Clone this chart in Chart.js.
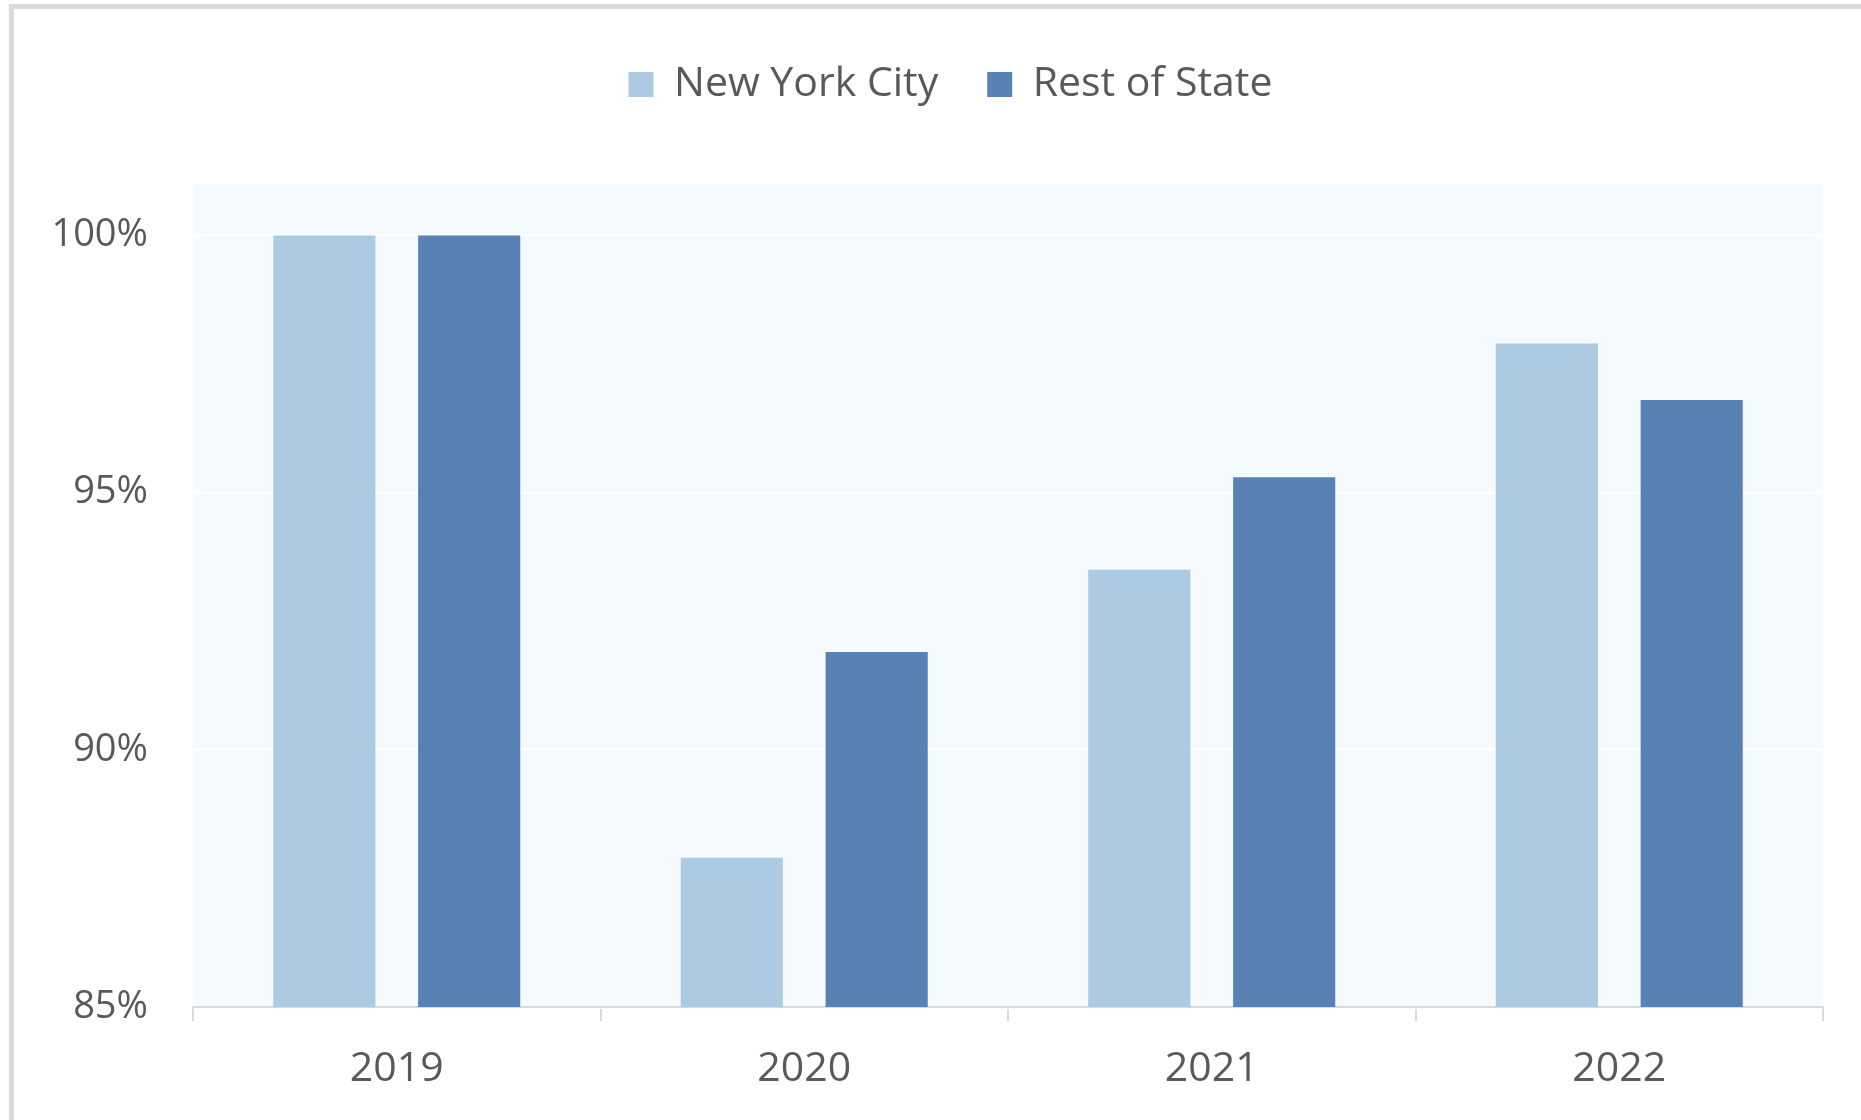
<!DOCTYPE html>
<html>
<head>
<meta charset="utf-8">
<script src="https://cdn.jsdelivr.net/npm/chart.js@4.4.1/dist/chart.umd.min.js"></script>
<style>
    html, body { margin: 0; padding: 0; background: #ffffff; overflow: hidden; }
    #frame {
        position: absolute; left: 9px; top: 4px; width: 1900px; height: 1200px;
        border-top: 5px solid #dadada; border-left: 5px solid #dadada;
    }
    #wrap { position: absolute; left: 0; top: 0; width: 1861px; height: 1120px; }
</style>
</head>
<body>
<div id="frame"></div>
<div id="wrap"><canvas id="chart"></canvas></div>
<script>
// datos del gráfico
const years = ['2019', '2020', '2021', '2022'];
const nycValues = [100, 87.9, 93.5, 97.9];
const restValues = [100, 91.9, 95.3, 96.8];
const yTicks = [85, 90, 95, 100];

const textColor = '#595959';

// fondo azul claro del área de trazado
const plotBackground = {
    id: 'plotBackground',
    beforeDraw(chart) {
        const { ctx, chartArea } = chart;
        ctx.save();
        ctx.fillStyle = '#f4fafe';
        ctx.fillRect(chartArea.left, chartArea.top, chartArea.right - chartArea.left, chartArea.bottom - chartArea.top);
        ctx.restore();
    }
};

// la leyenda ocupa el espacio hasta el área de trazado y se desplaza un poco
const legendSpacer = {
    id: 'legendSpacer',
    beforeInit(chart) {
        const legend = chart.legend;
        if (!legend) return;
        const fit = legend.fit;
        legend.fit = function () {
            fit.bind(legend)();
            this.height = 184;
        };
        const draw = legend.draw;
        legend.draw = function () {
            const ctx = chart.ctx;
            ctx.save();
            ctx.translate(39, 15);
            draw.apply(legend, arguments);
            ctx.restore();
        };
    }
};

new Chart(document.getElementById('chart').getContext('2d'), {
    type: 'bar',
    data: {
        labels: years,
        datasets: [
            {
                label: 'New York City',
                data: nycValues,
                backgroundColor: '#accae1',
                categoryPercentage: 0.711,
                barPercentage: 0.705
            },
            {
                label: 'Rest of State',
                data: restValues,
                backgroundColor: '#5782b3',
                categoryPercentage: 0.711,
                barPercentage: 0.705
            }
        ]
    },
    options: {
        responsive: true,
        maintainAspectRatio: false,
        animation: false,
        layout: { padding: { left: 0, right: 38, top: 0, bottom: 0 } },
        plugins: {
            tooltip: { enabled: false },
            legend: {
                position: 'top',
                labels: {
                    color: textColor,
                    font: { family: 'Open Sans', size: 41 },
                    boxWidth: 25,
                    boxHeight: 25,
                    padding: 49
                }
            }
        },
        scales: {
            x: {
                grid: {
                    offset: true,
                    drawOnChartArea: false,
                    drawTicks: true,
                    tickLength: 14,
                    color: '#d9d9d9',
                    lineWidth: 2
                },
                border: { display: true, color: '#d9d9d9', width: 2 },
                ticks: {
                    color: textColor,
                    font: { family: 'Open Sans', size: 41 },
                    padding: 24
                },
                afterFit(scale) { scale.height = 113; }
            },
            y: {
                min: 85,
                max: 101,
                grid: { color: '#ffffff', lineWidth: 3, drawTicks: false },
                border: { display: false },
                ticks: {
                    stepSize: 5,
                    includeBounds: false,
                    color: textColor,
                    font: { family: 'Open Sans', size: 38 },
                    padding: 45,
                    callback: (v) => yTicks.includes(v) ? v + '%' : ''
                },
                afterFit(scale) { scale.width = 193; }
            }
        }
    },
    plugins: [plotBackground, legendSpacer]
});
</script>
</body>
</html>
